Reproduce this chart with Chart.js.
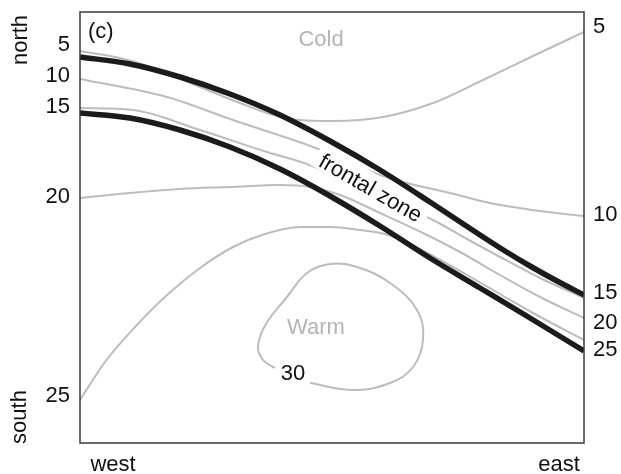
<!DOCTYPE html>
<html>
<head>
<meta charset="utf-8">
<script src="https://cdn.jsdelivr.net/npm/chart.js@4.4.1/dist/chart.umd.min.js"></script>
<style>
  html, body { margin: 0; padding: 0; background: #fff; }
  #wrap { width: 621px; height: 474px; position: relative; }
</style>
</head>
<body>
<div id="wrap"><canvas id="frontChart"></canvas></div>
<script>
// diagram units: x = distance east of the west edge, y = distance south of the north edge
const X_MAX = 504;
const Y_MAX = 431;

// thick black lines bounding the frontal zone
const frontNorth = [[0,45],[50,52],[100,65],[150,82],[200,103],[250,129],[300,158],[350,190],[400,223],[425,239],[450,254],[477,269],[504,283]];
const frontSouth = [[0,101],[50,106],[100,118],[150,135],[200,157],[250,184],[300,214],[350,246],[400,276],[450,306],[504,339]];

// grey isotherms
const iso5  = [[0,39],[40,46],[80,58],[120,75],[160,91],[190,102],[220,108],[253,109],[303,105],[353,91],[403,68],[453,44],[504,20]];
const iso10 = [[0,67],[87,85],[153,108],[233,135],[255,144],[275,153],[300,163],[327,171],[370,181],[410,191],[460,199],[504,204]];
const iso15 = [[0,96],[53,98],[120,118],[187,140],[227,152],[290,180],[353,208],[387,227],[420,245],[460,266],[504,286]];
const iso20 = [[0,186],[50,181],[100,177],[150,175],[200,173],[230,175],[260,183],[300,201],[343,221],[380,240],[420,263],[460,285],[504,306]];
const iso25 = [[0,388],[25,350],[55,315],[87,283],[120,256],[153,235],[185,222],[220,215],[250,215],[280,218],[305,222],[330,232],[353,244],[387,263],[420,282],[453,301],[504,328]];
const iso30 = [[230,371],[273,378],[310,371],[333,355],[343,328],[337,298],[310,271],[277,255],[250,252],[227,261],[207,285],[186,312],[178,334],[183,348],[195,356]];

// edge labels
const westLabels = ['5', '10', '15', '20', '25'];
const westLabelY = [33, 64, 95, 185, 384];
const eastLabels = ['5', '10', '15', '20', '25'];
const eastLabelY = [15, 203, 281, 311, 338];

const FONT = '22px "Liberation Sans", Arial, Helvetica, sans-serif';
const GREY = '#bcbcc0';
const INK = '#111';

const toPts = arr => arr.map(p => ({ x: p[0], y: p[1] }));

function isoLine(arr, closedLoop) {
    return {
        data: toPts(arr), borderColor: GREY, borderWidth: 2, order: 1, front: false,
        cubicInterpolationMode: closedLoop ? 'default' : 'monotone', tension: 0.4
    };
}
function frontLine(arr) {
    return {
        data: toPts(arr), borderColor: '#1b1b1b', borderWidth: 5.5, order: 0, front: true,
        cubicInterpolationMode: 'monotone'
    };
}

let labelsDone = false;

const diagramText = {
    id: 'diagramText',
    beforeDatasetsDraw() { labelsDone = false; },
    beforeDatasetDraw(chart, args) {
        // white box under "frontal zone" goes above the grey lines but below the black ones
        if (labelsDone || !chart.data.datasets[args.index].front) return;
        labelsDone = true;
        const { ctx, scales: { x, y } } = chart;
        ctx.save();
        ctx.font = FONT;
        ctx.translate(x.getPixelForValue(290), y.getPixelForValue(177));
        ctx.rotate(30 * Math.PI / 180);
        const w = ctx.measureText('frontal zone').width;
        ctx.fillStyle = '#fff';
        ctx.fillRect(-w / 2 - 6, -16, w + 12, 25);
        ctx.fillStyle = INK;
        ctx.textAlign = 'center';
        ctx.textBaseline = 'middle';
        ctx.fillText('frontal zone', 0, 0);
        ctx.restore();
    },
    afterDraw(chart) {
        const { ctx, chartArea: a, scales: { x, y } } = chart;
        ctx.save();
        ctx.strokeStyle = '#3a3a3a';
        ctx.lineWidth = 1.5;
        ctx.strokeRect(a.left, a.top, a.right - a.left, a.bottom - a.top);

        ctx.font = FONT;
        ctx.textBaseline = 'middle';
        ctx.fillStyle = INK;
        ctx.textAlign = 'right';
        westLabels.forEach((t, i) => ctx.fillText(t, a.left - 10, y.getPixelForValue(westLabelY[i])));
        ctx.textAlign = 'left';
        eastLabels.forEach((t, i) => ctx.fillText(t, a.right + 9, y.getPixelForValue(eastLabelY[i])));

        ctx.fillText('(c)', x.getPixelForValue(8), y.getPixelForValue(20));
        ctx.textAlign = 'center';
        ctx.fillText('30', x.getPixelForValue(213), y.getPixelForValue(362));
        ctx.fillStyle = '#b4b4b8';
        ctx.fillText('Cold', x.getPixelForValue(241), y.getPixelForValue(28));
        ctx.fillText('Warm', x.getPixelForValue(236), y.getPixelForValue(316));

        ctx.fillStyle = INK;
        ctx.fillText('west', a.left + 33, a.bottom + 22);
        ctx.fillText('east', a.right - 25, a.bottom + 22);
        ctx.save();
        ctx.translate(a.left - 59, a.top + 28);
        ctx.rotate(-Math.PI / 2);
        ctx.fillText('north', 0, 0);
        ctx.restore();
        ctx.save();
        ctx.translate(a.left - 60, a.bottom - 26);
        ctx.rotate(-Math.PI / 2);
        ctx.fillText('south', 0, 0);
        ctx.restore();
        ctx.restore();
    }
};

new Chart(document.getElementById('frontChart'), {
    type: 'scatter',
    data: {
        datasets: [
            frontLine(frontNorth), frontLine(frontSouth),
            isoLine(iso5), isoLine(iso10), isoLine(iso15), isoLine(iso20), isoLine(iso25), isoLine(iso30, true)
        ]
    },
    options: {
        responsive: true, maintainAspectRatio: false,
        animation: false,
        showLine: true,
        elements: {
            point: { radius: 0, hoverRadius: 0 },
            line: { fill: false, borderCapStyle: 'butt', borderJoinStyle: 'round' }
        },
        layout: { padding: { left: 80, top: 12, right: 37, bottom: 31 } },
        plugins: { legend: { display: false }, tooltip: { enabled: false } },
        scales: {
            x: { type: 'linear', min: 0, max: X_MAX, display: false },
            y: { type: 'linear', min: 0, max: Y_MAX, reverse: true, display: false }
        }
    },
    plugins: [diagramText]
});
</script>
</body>
</html>
